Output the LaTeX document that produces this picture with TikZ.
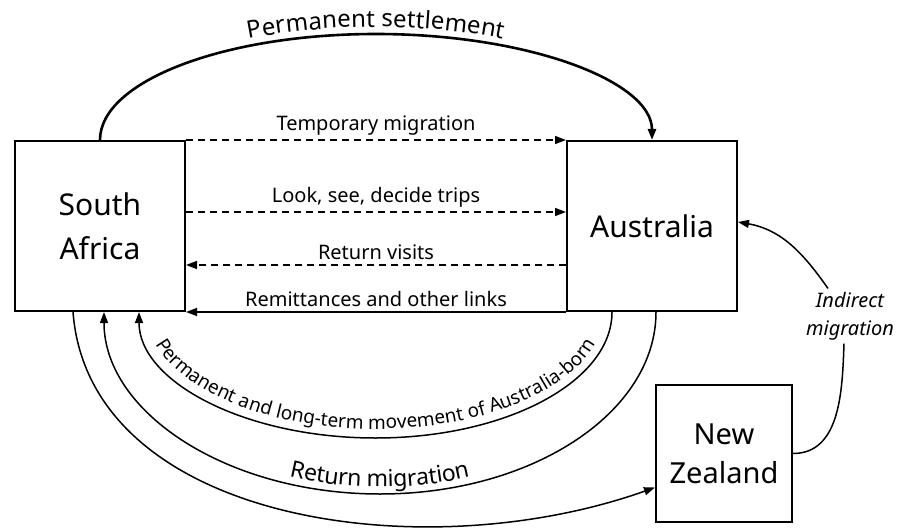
\documentclass[tikz,border=0pt]{standalone}
\usepackage{fontspec}
\setmainfont{Noto Sans}
\usetikzlibrary{arrows.meta, calc, decorations.text, positioning}

\begin{document}
\begin{tikzpicture}[x=1pt, y=1pt, >={Triangle[length=11pt,width=8pt]},
	box/.style={draw, line width=2pt, minimum width=170pt, minimum height=170pt, align=center, font=\fontsize{30}{44}\selectfont},
	flow/.style={line width=1.5pt},
	dashflow/.style={flow, dash pattern=on 7pt off 5pt},
	lbl/.style={font=\fontsize{20}{24}\selectfont, above=1pt}]
		\useasboundingbox (0,0) rectangle (901,-529);

		\node[box] (sa) at (100,-226) {South\\Africa};
		\node[box] (aus) at (652,-226) {Australia};
		\node[box, minimum width=136pt, minimum height=137pt, font=\fontsize{29}{39}\selectfont] (nz) at (724,-453.5) {New\\Zealand};

		\draw[dashflow, ->] (sa.north east) -- node[lbl]{Temporary migration} (aus.north west);
		\draw[dashflow, ->] ([yshift=-72pt]sa.north east) -- node[lbl]{Look, see, decide trips} ([yshift=-72pt]aus.north west);
		\draw[dashflow, ->] ([yshift=-125pt]aus.north west) -- node[lbl]{Return visits} ([yshift=-125pt]sa.north east);
		\draw[flow, ->] (aus.south west) -- node[lbl]{Remittances and other links} (sa.south east);

		\draw[flow, ->, line width=2.6pt, postaction={decorate, decoration={text along path, raise=7pt, text align=center, text={|\fontsize{24}{24}\selectfont|Permanent settlement}}}] (sa.north) arc[start angle=180, end angle=0, x radius=276, y radius=106];

		\draw[flow, <-] ([xshift=125pt]sa.south west) arc[start angle=180, end angle=360, x radius=236.5, y radius=126];
		% text of the inner arc sits on its own baseline
		\path[decorate, decoration={text along path, text align=center, text={|\fontsize{19}{19}\selectfont|Permanent and long-term movement of Australia-born}}] ([xshift=133pt]sa.south west) arc[start angle=180, end angle=360, x radius=228.5, y radius=117];
		\draw[flow, <-, postaction={decorate, decoration={text along path, raise=7pt, text align=center, text={|\fontsize{23}{23}\selectfont|Return migration}}}] ([xshift=90pt]sa.south west) arc[start angle=180, end angle=360, x radius=276, y radius=182];
		\draw[flow, ->] ([xshift=59pt]sa.south west) .. controls +(16,-209) and +(-234,-83) .. ([yshift=-34pt]nz.west);

		\node[font=\itshape\fontsize{20}{28}\selectfont, align=center] (ind) at (850,-316) {Indirect\\migration};
		\draw[flow] (nz.east) to[out=0, in=-92] ([xshift=-6pt]ind.south);
		\draw[flow, ->] ([xshift=-22pt]ind.north) to[out=125, in=-10] ([yshift=4pt]aus.east);
	\end{tikzpicture}
\end{document}
